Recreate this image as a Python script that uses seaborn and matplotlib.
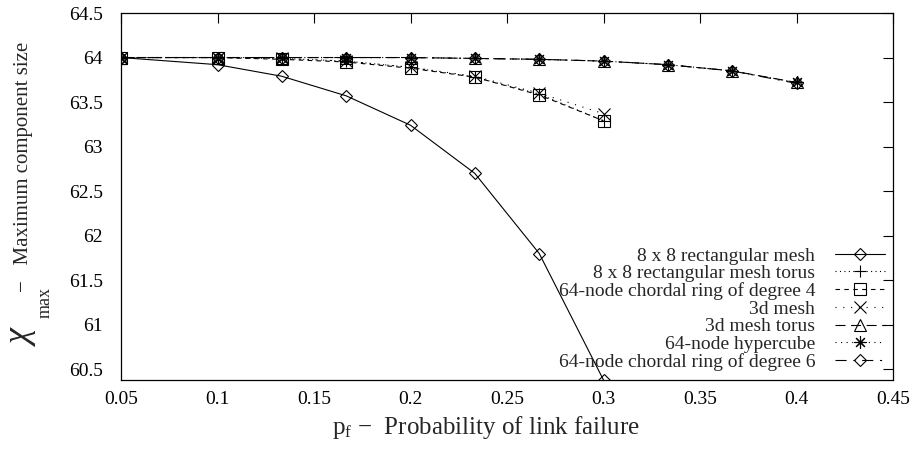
import numpy as np
import pandas as pd
import matplotlib
matplotlib.use('Agg')
import matplotlib.pyplot as plt
import seaborn as sns

# data
pf_short = [0.05, 0.1, 0.1333, 0.1667, 0.2, 0.2333, 0.2667, 0.3]
pf_long = [0.05, 0.1, 0.1333, 0.1667, 0.2, 0.2333, 0.2667, 0.3, 0.3333, 0.3667, 0.4]

mesh_8x8 = [64.0, 63.92, 63.79, 63.57, 63.24, 62.70, 61.80, 60.38]
torus_8x8 = [64.0, 64.0, 63.99, 63.96, 63.89, 63.78, 63.59, 63.29]
chordal_4 = [64.0, 64.0, 63.98, 63.95, 63.88, 63.78, 63.58, 63.29]
mesh_3d = [64.0, 64.0, 63.99, 63.96, 63.89, 63.79, 63.60, 63.37]
torus_3d = [64.0, 64.0, 64.0, 64.0, 64.0, 63.99, 63.98, 63.96, 63.92, 63.85, 63.72]
hypercube = [64.0, 64.0, 64.0, 64.0, 64.0, 63.99, 63.98, 63.96, 63.92, 63.85, 63.72]
chordal_6 = [64.0, 64.0, 64.0, 64.0, 64.0, 63.99, 63.98, 63.96, 63.92, 63.85, 63.71]

labels = ['8 x 8 rectangular mesh', '8 x 8 rectangular mesh torus',
          '64-node chordal ring of degree 4', '3d mesh', '3d mesh torus',
          '64-node hypercube', '64-node chordal ring of degree 6']

x_ticks = [0.05, 0.1, 0.15, 0.2, 0.25, 0.3, 0.35, 0.4, 0.45]
x_ticklabels = ['0.05', '0.1', '0.15', '0.2', '0.25', '0.3', '0.35', '0.4', '0.45']
y_ticks = [60.5, 61, 61.5, 62, 62.5, 63, 63.5, 64, 64.5]
y_ticklabels = ['60.5', '61', '61.5', '62', '62.5', '63', '63.5', '64', '64.5']

series = [(pf_short, mesh_8x8), (pf_short, torus_8x8), (pf_short, chordal_4),
          (pf_short, mesh_3d), (pf_long, torus_3d), (pf_long, hypercube),
          (pf_long, chordal_6)]

# gnuplot-ish styles
styles = [
    dict(marker='D', ms=6, ls='-'),
    dict(marker='+', ms=9, ls=(0, (1, 3))),
    dict(marker='s', ms=8, ls=(0, (4, 4))),
    dict(marker='x', ms=8, ls=(0, (1, 6))),
    dict(marker='^', ms=8, ls=(0, (9, 5))),
    dict(marker=(8, 2, 0), ms=9, ls=(0, (1, 4))),
    dict(marker='D', ms=6, ls=(0, (10, 6, 2, 6))),
]

sns.set_theme(style='white')
plt.rcParams['font.family'] = ['Liberation Serif', 'DejaVu Serif']
plt.rcParams['mathtext.fontset'] = 'custom'
plt.rcParams['mathtext.rm'] = 'Liberation Serif'
plt.rcParams['mathtext.it'] = 'Liberation Serif:italic'

fig = plt.figure(figsize=(9.17, 4.49), dpi=100)
ax = fig.add_axes([121 / 917, 1 - 380 / 449, 772 / 917, 367 / 449])

for (xs, ys), name, st in zip(series, labels, styles):
    df = pd.DataFrame({'pf': xs, 'chi': ys})
    sns.lineplot(data=df, x='pf', y='chi', ax=ax, color='black', lw=0.8,
                 marker=st['marker'], markersize=st['ms'], linestyle=st['ls'],
                 markerfacecolor='none', markeredgecolor='black',
                 markeredgewidth=0.8, label=name, legend=False)

ax.set_xlim(0.05, 0.45)
ax.set_ylim(60.38, 64.5)
ax.set_xticks(x_ticks)
ax.set_xticklabels(x_ticklabels)
ax.set_yticks(y_ticks)
ax.set_yticklabels(y_ticklabels)
ax.tick_params(direction='in', top=True, right=True, length=7, width=0.8,
               labelsize=14, colors='black')
ax.tick_params(axis='y', pad=13)
ax.tick_params(axis='x', pad=8)
for sp in ax.spines.values():
    sp.set_color('black')
    sp.set_linewidth(0.9)
ax.set_ylabel('')
ax.set_xlabel(r'$\mathrm{p}_{\mathrm{f}}$ $-$  Probability of link failure',
              fontsize=18, labelpad=0)
ax.xaxis.set_label_coords(0.473, -0.093)

# y label in pieces: big chi, subscript, rest
fig.text(22 / 917, 1 - 338 / 449, 'χ', rotation=90, fontsize=26,
         ha='center', va='center', style='italic')
fig.text(45 / 917, 1 - 302 / 449, 'max', rotation=90, fontsize=13,
         ha='center', va='center')
fig.text(24 / 917, 1 - 167 / 449, '−   Maximum component size', rotation=90,
         fontsize=15, ha='center', va='center')

handles, labs = ax.get_legend_handles_labels()
leg = ax.legend(handles, labs, loc='lower right', bbox_to_anchor=(0.99, 0.025),
                frameon=False, fontsize=14, markerfirst=False, borderpad=0,
                borderaxespad=0, handlelength=2.6, handletextpad=1.0,
                labelspacing=0.0)

fig.savefig('out.png', dpi=100)
